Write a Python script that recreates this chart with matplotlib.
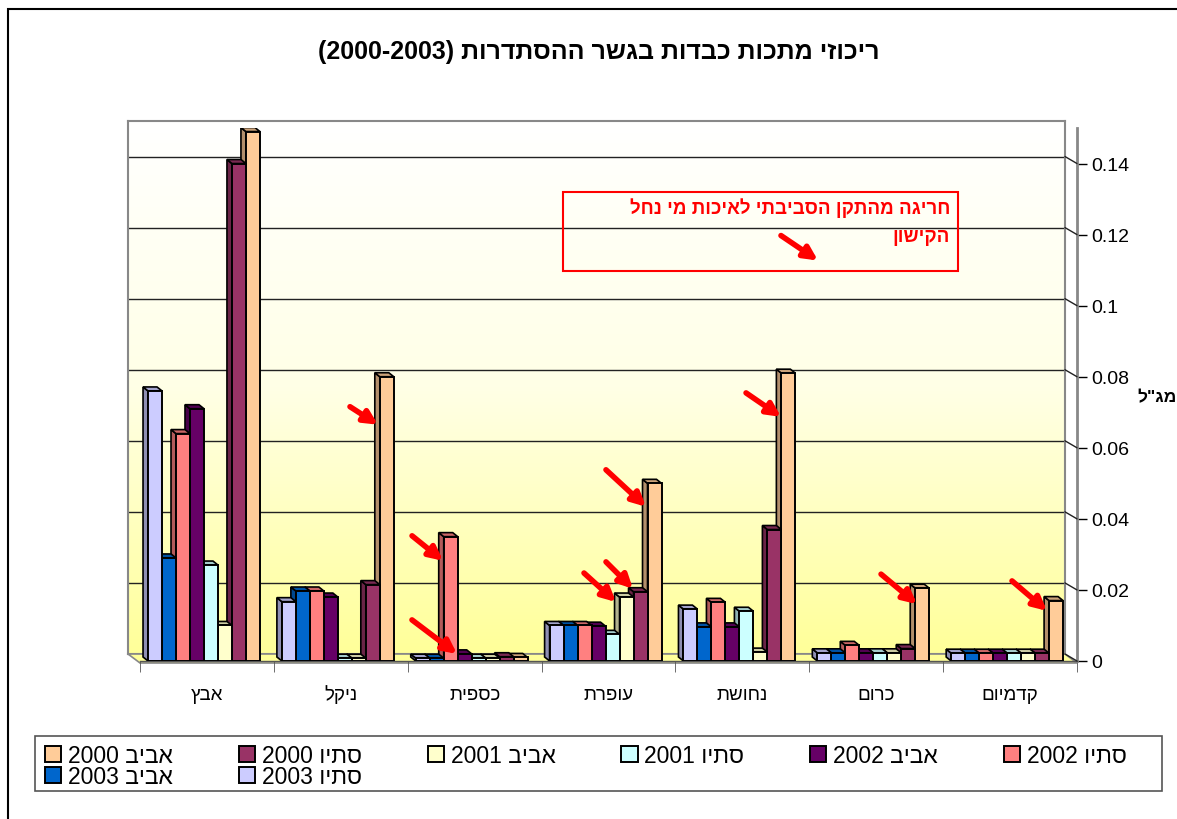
import numpy as np
import matplotlib.pyplot as plt
from matplotlib.patches import Polygon, Rectangle, ConnectionPatch
from matplotlib.colors import to_rgb, LinearSegmentedColormap
from matplotlib.ticker import FuncFormatter

plt.rcParams['font.family'] = ['Liberation Sans', 'DejaVu Sans']

# categories, left to right as shown
categories = ['אבץ', 'ניקל', 'כספית', 'עופרת', 'נחושת', 'כרום', 'קדמיום']

# series in legend order (first series is the rightmost bar of each group)
series = ['אביב 2000', 'סתיו 2000', 'אביב 2001', 'סתיו 2001',
          'אביב 2002', 'סתיו 2002', 'אביב 2003', 'סתיו 2003']

spring_2000 = [0.149, 0.080, 0.001, 0.050, 0.081, 0.0205, 0.017]
autumn_2000 = [0.140, 0.0215, 0.0012, 0.0195, 0.037, 0.0035, 0.0022]
spring_2001 = [0.010, 0.0008, 0.0008, 0.018, 0.0025, 0.0023, 0.0022]
autumn_2001 = [0.027, 0.0008, 0.0008, 0.0075, 0.014, 0.0023, 0.0022]
spring_2002 = [0.071, 0.018, 0.002, 0.0098, 0.0096, 0.0023, 0.0022]
autumn_2002 = [0.064, 0.0197, 0.035, 0.010, 0.0165, 0.0044, 0.0022]
spring_2003 = [0.029, 0.0197, 0.0008, 0.010, 0.0096, 0.0023, 0.0022]
autumn_2003 = [0.076, 0.0167, 0.0008, 0.010, 0.0146, 0.0023, 0.0022]

values = [spring_2000, autumn_2000, spring_2001, autumn_2001,
          spring_2002, autumn_2002, spring_2003, autumn_2003]

colors = ['#FFCC99', '#993366', '#FFFFCC', '#CCFFFF',
          '#660066', '#FF8080', '#0066CC', '#CCCCFF']

title = 'ריכוזי מתכות כבדות בגשר ההסתדרות (2000-2003)'
note_lines = ['חריגה מהתקן הסביבתי לאיכות מי נחל', 'הקישון']
unit = 'מג"ל'


def rtl(s):
    # simple visual reordering for matplotlib (no bidi support)
    mirror = {'(': ')', ')': '('}
    out = []
    for w in reversed(s.split(' ')):
        if any('\u0590' <= c <= '\u05FF' for c in w):
            w = ''.join(mirror.get(c, c) for c in w[::-1])
        out.append(w)
    return ' '.join(out)


W, H = 1177, 820
fig = plt.figure(figsize=(W / 100, H / 100), dpi=100)


def px_box(l, t, r, b):
    return [l / W, 1 - b / H, (r - l) / W, (b - t) / H]


def fpt(x, y):
    return (x / W, 1 - y / H)


# outer frame (only top/left visible)
fig.add_artist(Rectangle(fpt(8, 830), 1.0, (830 - 10) / H, transform=fig.transFigure,
                         fill=False, ec='black', lw=1.5))

ymax = 0.15

# back wall with gradient and gridlines
back = fig.add_axes(px_box(128, 122, 1065, 655))
back.set_zorder(0)
grad = np.linspace(0, 1, 256).reshape(-1, 1)
cmap = LinearSegmentedColormap.from_list('wall', ['#FFFF99', '#FFFFE6', '#FFFFFF'])
back.imshow(grad, extent=[0, 1, 0, ymax], aspect='auto', origin='lower', cmap=cmap)
back.set_xlim(0, 1)
back.set_ylim(0, ymax)
back.set_yticks(np.arange(0.02, 0.15, 0.02))
back.yaxis.grid(True, color='#222222', lw=1)
back.tick_params(length=0, labelleft=False, labelbottom=False)
back.set_xticks([])
for s in back.spines.values():
    s.set_color('#888888')
    s.set_linewidth(1.5)

# floor
fig.add_artist(Polygon([fpt(128, 655), fpt(1065, 655), fpt(1077, 664), fpt(140, 664)],
                       closed=True, transform=fig.transFigure, fc='#FFFF99', ec='#888888',
                       lw=1.2, zorder=0.5))

# main axes (front plane)
ax = fig.add_axes(px_box(140, 129, 1077, 662))
ax.set_zorder(1)
ax.patch.set_alpha(0)
n_cat = len(categories)
ax.set_xlim(-0.5, n_cat - 0.5)
ax.set_ylim(0, ymax)

x_per_px = n_cat / (1077 - 140)
y_per_px = ymax / (662 - 129)
dx = -5 * x_per_px
dy = 4 * y_per_px

bw = 0.1045
start = 0.06
x = np.arange(n_cat)


def shade(c, f):
    r, g, b = to_rgb(c)
    return (r * f, g * f, b * f)


for k, (name, vals, col) in enumerate(zip(series, values, colors)):
    slot = len(series) - 1 - k
    left = x - 0.5 + start + slot * bw
    z = 10 + (len(series) - slot) * 0.1
    ax.bar(left, vals, width=bw, align='edge', color=col, edgecolor='black',
           linewidth=1.4, zorder=z + 0.05, label=rtl(name))
    for xl, v in zip(left, vals):
        side = [(xl, 0), (xl, v), (xl + dx, v + dy), (xl + dx, dy)]
        top = [(xl, v), (xl + bw, v), (xl + bw + dx, v + dy), (xl + dx, v + dy)]
        ax.add_patch(Polygon(side, closed=True, fc=shade(col, 0.7), ec='black', lw=1.2, zorder=z))
        ax.add_patch(Polygon(top, closed=True, fc=shade(col, 0.8), ec='black', lw=1.2, zorder=z + 0.02))

# axes styling
for s in ['left', 'top']:
    ax.spines[s].set_visible(False)
ax.spines['right'].set_color('#888888')
ax.spines['right'].set_linewidth(2)
ax.spines['bottom'].set_color('#555555')
ax.spines['bottom'].set_linewidth(1)
ax.yaxis.tick_right()
yt = np.arange(0, 0.141, 0.02)
ax.set_yticks(yt)
ax.yaxis.set_major_formatter(FuncFormatter(lambda v, p: '%g' % round(v, 3)))
ax.tick_params(axis='y', length=7, width=1, color='black', labelsize=14, pad=3)
ax.set_xticks(x)
ax.set_xticklabels([rtl(c) for c in categories], fontsize=13.5)
for lbl in ax.get_xticklabels():
    lbl.set_va('baseline')
ax.set_xticks(np.arange(-0.5, n_cat, 1), minor=True)
ax.tick_params(axis='x', which='major', length=0, pad=27)
ax.tick_params(axis='x', which='minor', length=8, color='#555555')

# diagonal tick connectors from back wall to the value axis
for v in yt:
    fig.add_artist(ConnectionPatch(xyA=(1.0, v), coordsA=back.get_yaxis_transform(),
                                   xyB=(1.0, v), coordsB=ax.get_yaxis_transform(),
                                   color='#222222', lw=1, zorder=2))

# red arrows: head (category units, value), tail offset in pixels
arrows = [(1.278, 0.0665, -28, 18), (1.764, 0.0282, -31, 25), (1.868, 0.002, -45, 34),
          (3.056, 0.0166, -32, 29), (3.183, 0.0203, -27, 27), (3.280, 0.0434, -40, 37),
          (4.289, 0.0687, -35, 24), (5.305, 0.016, -36, 30), (6.276, 0.0141, -35, 30),
          (4.565, 0.1127, -37, 25)]
for hx, hy, ox, oy in arrows:
    ax.annotate('', xy=(hx, hy), xytext=(ox, oy), textcoords='offset pixels',
                annotation_clip=False,
                arrowprops=dict(arrowstyle='-|>', color='red', lw=4,
                                mutation_scale=20, shrinkA=0, shrinkB=0),
                zorder=30)

# note box
fig.add_artist(Rectangle(fpt(563, 272), (958 - 563) / W, (272 - 193) / H,
                         transform=fig.transFigure, fill=False, ec='red', lw=1.5))
fig.text(950 / W, 1 - 208 / H, rtl(note_lines[0]), ha='right', va='center',
         color='red', weight='bold', fontsize=13.5)
fig.text(950 / W, 1 - 237 / H, rtl(note_lines[1]), ha='right', va='center',
         color='red', weight='bold', fontsize=13.5)

# title and unit
fig.text(0.509, 1 - 52 / H, rtl(title), ha='center', va='center', fontsize=18, weight='bold')
fig.text(1177 / W, 1 - 398 / H, rtl(unit), ha='right', va='center', fontsize=12.5, weight='bold')

# legend, filled row by row; frame drawn separately
fig.add_artist(Rectangle(fpt(35, 792), (1162 - 35) / W, (792 - 737) / H,
                         transform=fig.transFigure, fill=False, ec='#555555', lw=1.2))
handles, labels = ax.get_legend_handles_labels()
order = [0, 6, 1, 7, 2, 3, 4, 5]
leg = fig.legend([handles[i] for i in order], [labels[i] for i in order],
                 ncol=6, loc='upper left', bbox_to_anchor=fpt(45, 745),
                 fontsize=16.5, frameon=False, handlelength=0.7, handleheight=0.7,
                 handletextpad=0.3, labelspacing=-0.08, borderpad=0.0, borderaxespad=0,
                 columnspacing=2.88)

fig.savefig('out.png', dpi=100)
